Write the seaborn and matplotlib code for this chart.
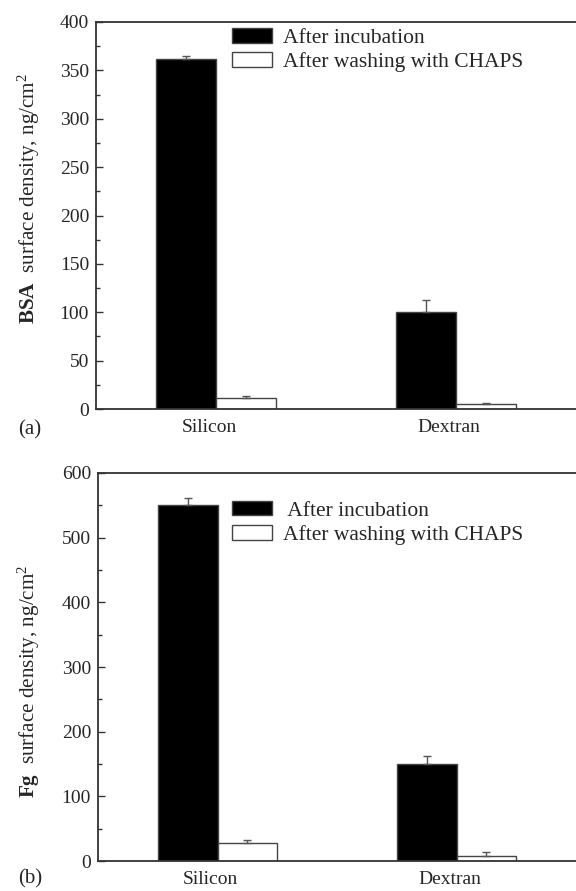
import matplotlib
matplotlib.use("Agg")
import matplotlib.pyplot as plt
from matplotlib.ticker import MultipleLocator
import matplotlib.transforms as mtransforms
import seaborn as sns
import pandas as pd

# ---- data ----
categories = ["Silicon", "Dextran"]
series = ["After incubation", "After washing with CHAPS"]
bsa_incubation = [362, 100]
bsa_incubation_err = [3, 13]
bsa_washing = [11.5, 5.5]
bsa_washing_err = [2, 1]
fg_incubation = [550, 150]
fg_incubation_err = [11, 13]
fg_washing = [28, 8.5]
fg_washing_err = [5, 5]

sns.set_theme(style="white")
plt.rcParams["font.family"] = ["Liberation Serif", "DejaVu Serif"]
plt.rcParams["mathtext.fontset"] = "custom"
plt.rcParams["mathtext.rm"] = "Liberation Serif"
plt.rcParams["mathtext.bf"] = "Liberation Serif:bold"
plt.rcParams["mathtext.it"] = "Liberation Serif:italic"

fig = plt.figure(figsize=(5.76, 8.91), dpi=100)
ax1 = fig.add_axes([96 / 576, 1 - 409 / 891, 1 - 96 / 576, (409 - 22) / 891])
ax2 = fig.add_axes([98 / 576, 1 - 861 / 891, 1 - 98 / 576, (861 - 473) / 891])

palette = {series[0]: "black", series[1]: "white"}
spine_col = "#333333"


def make_df(inc, wash):
    rows = []
    for c, v in zip(categories, inc):
        rows.append({"cat": c, "series": series[0], "val": v})
    for c, v in zip(categories, wash):
        rows.append({"cat": c, "series": series[1], "val": v})
    return pd.DataFrame(rows)


def draw(ax, inc, inc_err, wash, wash_err, ymax, major, minor, label_bold,
         leg_xy, label_xy, leg_labels):
    df = make_df(inc, wash)
    sns.barplot(data=df, x="cat", y="val", hue="series", order=categories,
                hue_order=series, palette=palette, width=0.5, gap=0,
                edgecolor="#444444", linewidth=1.0, errorbar=None, ax=ax)
    errs = {series[0]: inc_err, series[1]: wash_err}
    for cont, s in zip(ax.containers, series):
        xs = [b.get_x() + b.get_width() / 2 for b in cont]
        hs = [b.get_height() for b in cont]
        ax.errorbar(xs, hs, yerr=[[0] * len(hs), errs[s]], fmt="none",
                    ecolor="#555555", elinewidth=1.0, capsize=3.2, capthick=1.0)
    ax.set_xlim(-0.5, 1.5)
    ax.set_ylim(0, ymax)
    ax.yaxis.set_major_locator(MultipleLocator(major))
    ax.yaxis.set_minor_locator(MultipleLocator(minor))
    ax.tick_params(axis="y", which="major", direction="in", length=5, width=1,
                   color=spine_col, labelsize=14, pad=5, left=True)
    ax.tick_params(axis="y", which="minor", direction="in", length=3, width=1,
                   color=spine_col, left=True)
    ax.tick_params(axis="x", length=0, labelsize=14, pad=7)
    offset = mtransforms.ScaledTranslation(-7 / 100, 0, fig.dpi_scale_trans)
    for lab in ax.get_xticklabels():
        lab.set_transform(lab.get_transform() + offset)
    for side in ["left", "top", "bottom"]:
        ax.spines[side].set_visible(True)
        ax.spines[side].set_color(spine_col)
        ax.spines[side].set_linewidth(1.3)
    ax.spines["right"].set_visible(False)
    ax.set_xlabel("")
    ax.set_ylabel(r"$\mathbf{" + label_bold + r"}$  surface density, ng/cm$^2$",
                  fontsize=15.2)
    ax.yaxis.set_label_coords(*label_xy)
    handles, _ = ax.get_legend_handles_labels()
    ax.legend(handles, leg_labels, loc="upper left", bbox_to_anchor=leg_xy,
              frameon=False, fontsize=15.5, handlelength=1.86, handleheight=0.65,
              handletextpad=0.5, labelspacing=0.2, borderpad=0,
              borderaxespad=0, title=None)


draw(ax1, bsa_incubation, bsa_incubation_err, bsa_washing, bsa_washing_err,
     400, 50, 25, "BSA", (0.283, 0.984), (-0.113, 0.543), series)
draw(ax2, fg_incubation, fg_incubation_err, fg_washing, fg_washing_err,
     600, 100, 50, "Fg", (0.280, 0.928), (-0.118, 0.464),
     [" " + series[0], series[1]])

fig.text(30 / 576, 1 - 430 / 891, "(a)", fontsize=15, ha="center", va="center")
fig.text(30 / 576, 1 - 879 / 891, "(b)", fontsize=15, ha="center", va="center")

fig.savefig("out.png", dpi=100)
